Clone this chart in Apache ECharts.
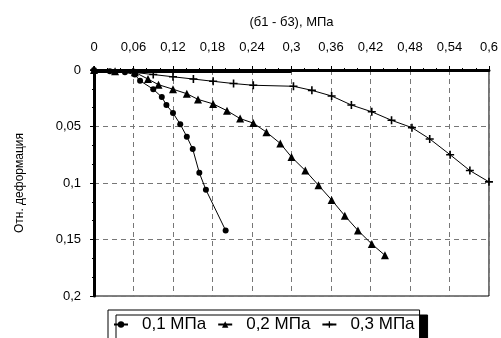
<!DOCTYPE html>
<html>
<head>
<meta charset="utf-8">
<script src="https://cdn.jsdelivr.net/npm/echarts@6/dist/echarts.min.js"></script>
<style>
  html, body { margin: 0; padding: 0; background: #fff; }
  #container { width: 501px; height: 338px; }
</style>
</head>
<body>
<div id="container"></div>
<script>
var xTitle = '(б1 - б3), МПа';
var yTitle = 'Отн. деформация';
var seriesNames = ['0,1 МПа', '0,2 МПа', '0,3 МПа'];

// [разность напряжений, отн. деформация]
var s01 = [
    [0, 0], [0.024, 0.001], [0.047, 0.002], [0.062, 0.004], [0.070, 0.0095],
    [0.090, 0.017], [0.103, 0.024], [0.110, 0.031], [0.120, 0.038], [0.131, 0.048],
    [0.141, 0.059], [0.150, 0.070], [0.160, 0.091], [0.170, 0.106], [0.200, 0.142]
];
var s02 = [
    [0, 0], [0.032, 0.001], [0.062, 0.002], [0.082, 0.008], [0.098, 0.013],
    [0.120, 0.017], [0.141, 0.021], [0.158, 0.026], [0.181, 0.030], [0.202, 0.036],
    [0.222, 0.043], [0.242, 0.047], [0.262, 0.055], [0.283, 0.065], [0.300, 0.077],
    [0.321, 0.089], [0.341, 0.102], [0.361, 0.115], [0.381, 0.129], [0.401, 0.142],
    [0.422, 0.154], [0.442, 0.164]
];
var s03 = [
    [0, 0], [0.059, 0.002], [0.090, 0.004], [0.120, 0.006], [0.151, 0.008],
    [0.181, 0.010], [0.212, 0.012], [0.242, 0.0135], [0.303, 0.0144], [0.331, 0.018],
    [0.361, 0.023], [0.391, 0.031], [0.422, 0.037], [0.452, 0.0445], [0.483, 0.051],
    [0.510, 0.061], [0.541, 0.075], [0.571, 0.089], [0.600, 0.099]
];
// толстая линия по верхней границе
var sTop = [[0, 0.0008], [0.3, 0.0008]];

var plusPath = 'path://M4,0h2v4h4v2h-4v4h-2v-4h-4v-2h4z';
var font = 'Liberation Sans, Arial, sans-serif';

function commaLabel(v) {
    return String(+(+v).toFixed(3)).replace('.', ',');
}

var myChart = echarts.init(document.getElementById('container'));

var option = {
    animation: false,
    backgroundColor: '#fff',
    textStyle: { fontFamily: font, color: '#000' },
    grid: {
        left: 94, right: 12, top: 70, bottom: 42,
        show: true, borderColor: '#000', borderWidth: 1
    },
    xAxis: {
        type: 'value',
        position: 'top',
        min: 0, max: 0.6, interval: 0.06,
        name: xTitle,
        nameLocation: 'middle',
        nameGap: 41,
        nameTextStyle: { fontSize: 13, color: '#000', fontFamily: font },
        axisLine: { show: true, lineStyle: { color: '#000', width: 3 } },
        axisTick: { show: true, inside: false, length: 4, lineStyle: { color: '#000' } },
        minorTick: { show: true, splitNumber: 3, length: 2, lineStyle: { color: '#000' } },
        axisLabel: { fontSize: 13, color: '#000', margin: 16, formatter: commaLabel, hideOverlap: false },
        splitLine: { show: true, lineStyle: { color: '#777', type: [5, 4], width: 1 } }
    },
    yAxis: {
        type: 'value',
        inverse: true,
        min: 0, max: 0.2, interval: 0.05,
        name: yTitle,
        nameLocation: 'middle',
        nameGap: 68,
        nameTextStyle: { fontSize: 12, color: '#000', fontFamily: font },
        axisLine: { show: true, lineStyle: { color: '#000', width: 3 } },
        axisTick: { show: true, inside: false, length: 4, lineStyle: { color: '#000' } },
        minorTick: { show: true, splitNumber: 3, length: 2, lineStyle: { color: '#000' } },
        axisLabel: { fontSize: 13, color: '#000', margin: 13, formatter: commaLabel },
        splitLine: { show: true, lineStyle: { color: '#777', type: [5, 4], width: 1 } }
    },
    legend: {
        data: seriesNames,
        left: 108, top: 310,
        padding: [6, 5, 7, 5],
        itemGap: 11,
        itemWidth: 14, itemHeight: 8,
        borderColor: '#000', borderWidth: 1,
        backgroundColor: '#fff',
        shadowColor: '#000', shadowBlur: 0, shadowOffsetX: 8, shadowOffsetY: 5,
        textStyle: { fontSize: 17, color: '#000', fontFamily: font, padding: [0, 0, 0, 9] }
    },
    series: [
        {
            name: seriesNames[0], type: 'line', data: s01,
            symbol: 'circle', symbolSize: 6, showAllSymbol: true,
            lineStyle: { color: '#000', width: 1 },
            itemStyle: { color: '#000' }
        },
        {
            name: seriesNames[1], type: 'line', data: s02,
            symbol: 'triangle', symbolSize: 8, showAllSymbol: true,
            lineStyle: { color: '#000', width: 1 },
            itemStyle: { color: '#000' }
        },
        {
            name: seriesNames[2], type: 'line', data: s03,
            symbol: plusPath, symbolSize: 8, showAllSymbol: true,
            lineStyle: { color: '#000', width: 1 },
            itemStyle: { color: '#000' }
        },
        {
            name: 'top', type: 'line', data: sTop,
            symbol: 'none', silent: true,
            lineStyle: { color: '#000', width: 4 }
        }
    ]
};

myChart.setOption(option);
</script>
</body>
</html>
